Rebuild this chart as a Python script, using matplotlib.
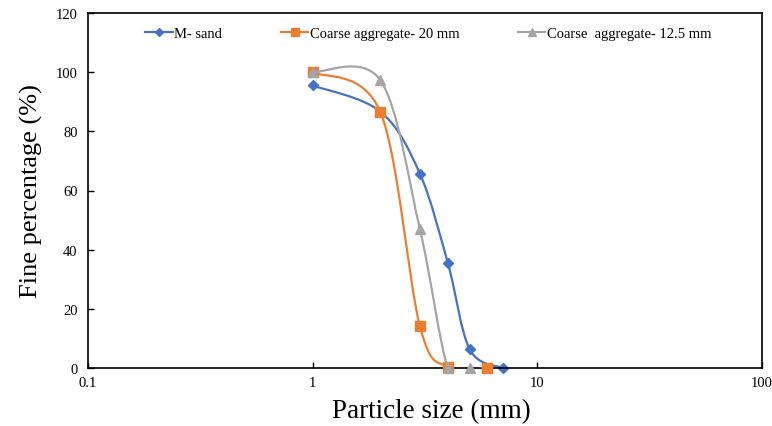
import numpy as np
import matplotlib
matplotlib.use("Agg")
import matplotlib.pyplot as plt
from matplotlib.path import Path
from matplotlib.patches import PathPatch
from matplotlib.lines import Line2D
from matplotlib.ticker import FixedLocator, NullLocator, FixedFormatter

# sieve data
msand_x = [1, 2, 3, 4, 5, 7]
msand_y = [95.5, 86.7, 65.7, 35.4, 6.3, 0]
ca20_x = [1, 2, 3, 4, 6]
ca20_y = [100, 86.6, 14.2, 0.3, 0]
ca125_x = [1, 2, 3, 4, 5]
ca125_y = [100, 97.3, 47, 0, 0]

labels = ["M- sand", "Coarse aggregate- 20 mm", "Coarse  aggregate- 12.5 mm"]
colors = ["#4472C4", "#ED7D31", "#A5A5A5"]
markers = ["D", "s", "^"]
msizes = [5.5, 7, 7]
x_ticks = [0.1, 1, 10, 100]
x_ticklabels = ["0.1", "1", "10", "100"]
y_ticks = [0, 20, 40, 60, 80, 100, 120]

plt.rcParams["font.family"] = ["Liberation Serif", "DejaVu Serif"]


def smooth_path(xs, ys):
    """Excel-style smoothed line: Catmull-Rom Bezier in log-x space."""
    lx = np.log10(xs)
    pts = np.column_stack([lx, ys])
    n = len(pts)
    verts = [pts[0]]
    codes = [Path.MOVETO]
    for i in range(n - 1):
        p0 = pts[i - 1] if i > 0 else pts[i]
        p1, p2 = pts[i], pts[i + 1]
        p3 = pts[i + 2] if i + 2 < n else pts[i + 1]
        c1 = p1 + (p2 - p0) / 6
        c2 = p2 - (p3 - p1) / 6
        verts += [c1, c2, p2]
        codes += [Path.CURVE4] * 3
    verts = np.array(verts)
    verts[:, 0] = 10 ** verts[:, 0]
    return Path(verts, codes)


fig = plt.figure(figsize=(7.72, 4.27), dpi=100)
ax = fig.add_axes([88 / 772, 1 - 369 / 427, 674 / 772, 355 / 427])
ax.set_xscale("log")
ax.set_xlim(0.1, 100)
ax.set_ylim(0, 120)

series = [(msand_x, msand_y), (ca20_x, ca20_y), (ca125_x, ca125_y)]
handles = []
for k, (xs, ys) in enumerate(series):
    patch = PathPatch(smooth_path(xs, ys), fill=False, edgecolor=colors[k],
                      lw=1.6, zorder=2 + k)
    ax.add_patch(patch)
    ax.plot(xs, ys, ls="none", marker=markers[k], ms=msizes[k], color=colors[k],
            zorder=2.5 + k, clip_on=False)
    handles.append(Line2D([], [], color=colors[k], lw=1.6, marker=markers[k],
                          ms=msizes[k] - 1.5))

ax.xaxis.set_major_locator(FixedLocator(x_ticks))
ax.xaxis.set_major_formatter(FixedFormatter(x_ticklabels))
ax.xaxis.set_minor_locator(NullLocator())
ax.set_yticks(y_ticks)
ax.tick_params(direction="in", length=4, width=1, labelsize=10.5, colors="black")
ax.tick_params(axis="x", pad=6)
ax.tick_params(axis="y", pad=7.5)
for s in ax.spines.values():
    s.set_linewidth(1.2)

ax.set_xlabel("Particle size (mm)", fontsize=19.5, labelpad=3)
ax.xaxis.set_label_coords(0.51, -0.085)
ax.set_ylabel("Fine percentage (%)", fontsize=19, labelpad=9)

ax.legend(handles, labels, loc="center", bbox_to_anchor=(0.505, 0.942), ncol=3,
          frameon=False, fontsize=10.5, handlelength=1.9, handletextpad=0.1,
          columnspacing=4.0)

fig.savefig("out.png", dpi=100)
